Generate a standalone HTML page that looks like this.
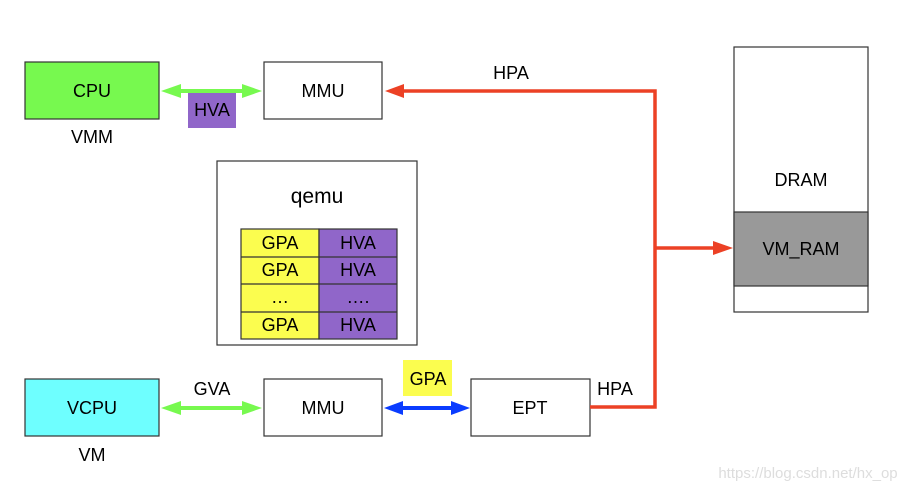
<!DOCTYPE html>
<html><head><meta charset="utf-8"><style>
html,body{margin:0;padding:0;background:#fff;}
svg{display:block;font-family:"Liberation Sans",Arial,sans-serif;}
</style></head><body>
<svg width="914" height="490" viewBox="0 0 914 490" xmlns="http://www.w3.org/2000/svg">
<g stroke="#333" stroke-width="1.2">
<rect x="25" y="62" width="134" height="57" fill="#77f94f"/>
<rect x="264" y="62" width="118" height="57" fill="#fff"/>
<rect x="217" y="161" width="200" height="184" fill="#fff"/>
<rect x="734" y="47" width="134" height="265" fill="#fff"/>
<rect x="734" y="212" width="134" height="74" fill="#999"/>
<rect x="25" y="379" width="134" height="57" fill="#6effff"/>
<rect x="264" y="379" width="118" height="57" fill="#fff"/>
<rect x="471" y="379" width="119" height="57" fill="#fff"/>
<rect x="241" y="229" width="78" height="110" fill="#fbfd4f"/>
<rect x="319" y="229" width="78" height="110" fill="#9066c9"/>
<line x1="241" y1="257" x2="397" y2="257"/>
<line x1="241" y1="284" x2="397" y2="284"/>
<line x1="241" y1="312" x2="397" y2="312"/>
</g>
<rect x="188" y="92" width="48" height="36" fill="#9066c9"/>
<rect x="403" y="360" width="49" height="36" fill="#fbfd4f"/>
<g stroke="#77f94f" stroke-width="4" fill="#77f94f">
<line x1="175" y1="91" x2="248" y2="91"/>
<line x1="175" y1="408" x2="248" y2="408"/>
</g>
<g fill="#77f94f">
<polygon points="161,91 181,84 181,98"/>
<polygon points="262,91 242,84 242,98"/>
<polygon points="161,408 181,401 181,415"/>
<polygon points="262,408 242,401 242,415"/>
</g>
<line x1="398" y1="408" x2="456" y2="408" stroke="#0a3cff" stroke-width="4"/>
<polygon points="384,408 403,401 403,415" fill="#0a3cff"/>
<polygon points="470,408 451,401 451,415" fill="#0a3cff"/>
<g stroke="#ec4125" stroke-width="3.5" fill="none">
<polyline points="590,407 655,407 655,91 400,91"/>
<line x1="655" y1="248" x2="718" y2="248"/>
</g>
<polygon points="385,91 404,84 404,98" fill="#ec4125"/>
<polygon points="733,248 713,241 713,255" fill="#ec4125"/>
<g font-size="18" fill="#000" text-anchor="middle">
<text x="92" y="97">CPU</text>
<text x="92" y="143">VMM</text>
<text x="212" y="116">HVA</text>
<text x="323" y="97">MMU</text>
<text x="511" y="79">HPA</text>
<text x="317" y="203" font-size="21">qemu</text>
<text x="280" y="249">GPA</text><text x="358" y="249">HVA</text>
<text x="280" y="276">GPA</text><text x="358" y="276">HVA</text>
<text x="280" y="303">…</text><text x="358" y="303">….</text>
<text x="280" y="331">GPA</text><text x="358" y="331">HVA</text>
<text x="801" y="186">DRAM</text>
<text x="801" y="255">VM_RAM</text>
<text x="92" y="414">VCPU</text>
<text x="92" y="461">VM</text>
<text x="212" y="395">GVA</text>
<text x="323" y="414">MMU</text>
<text x="428" y="385">GPA</text>
<text x="530" y="414">EPT</text>
<text x="615" y="395">HPA</text>
</g>
<text x="808" y="478" font-size="15" fill="#ddd" text-anchor="middle">https://blog.csdn.net/hx_op</text>
</svg>
</body></html>
